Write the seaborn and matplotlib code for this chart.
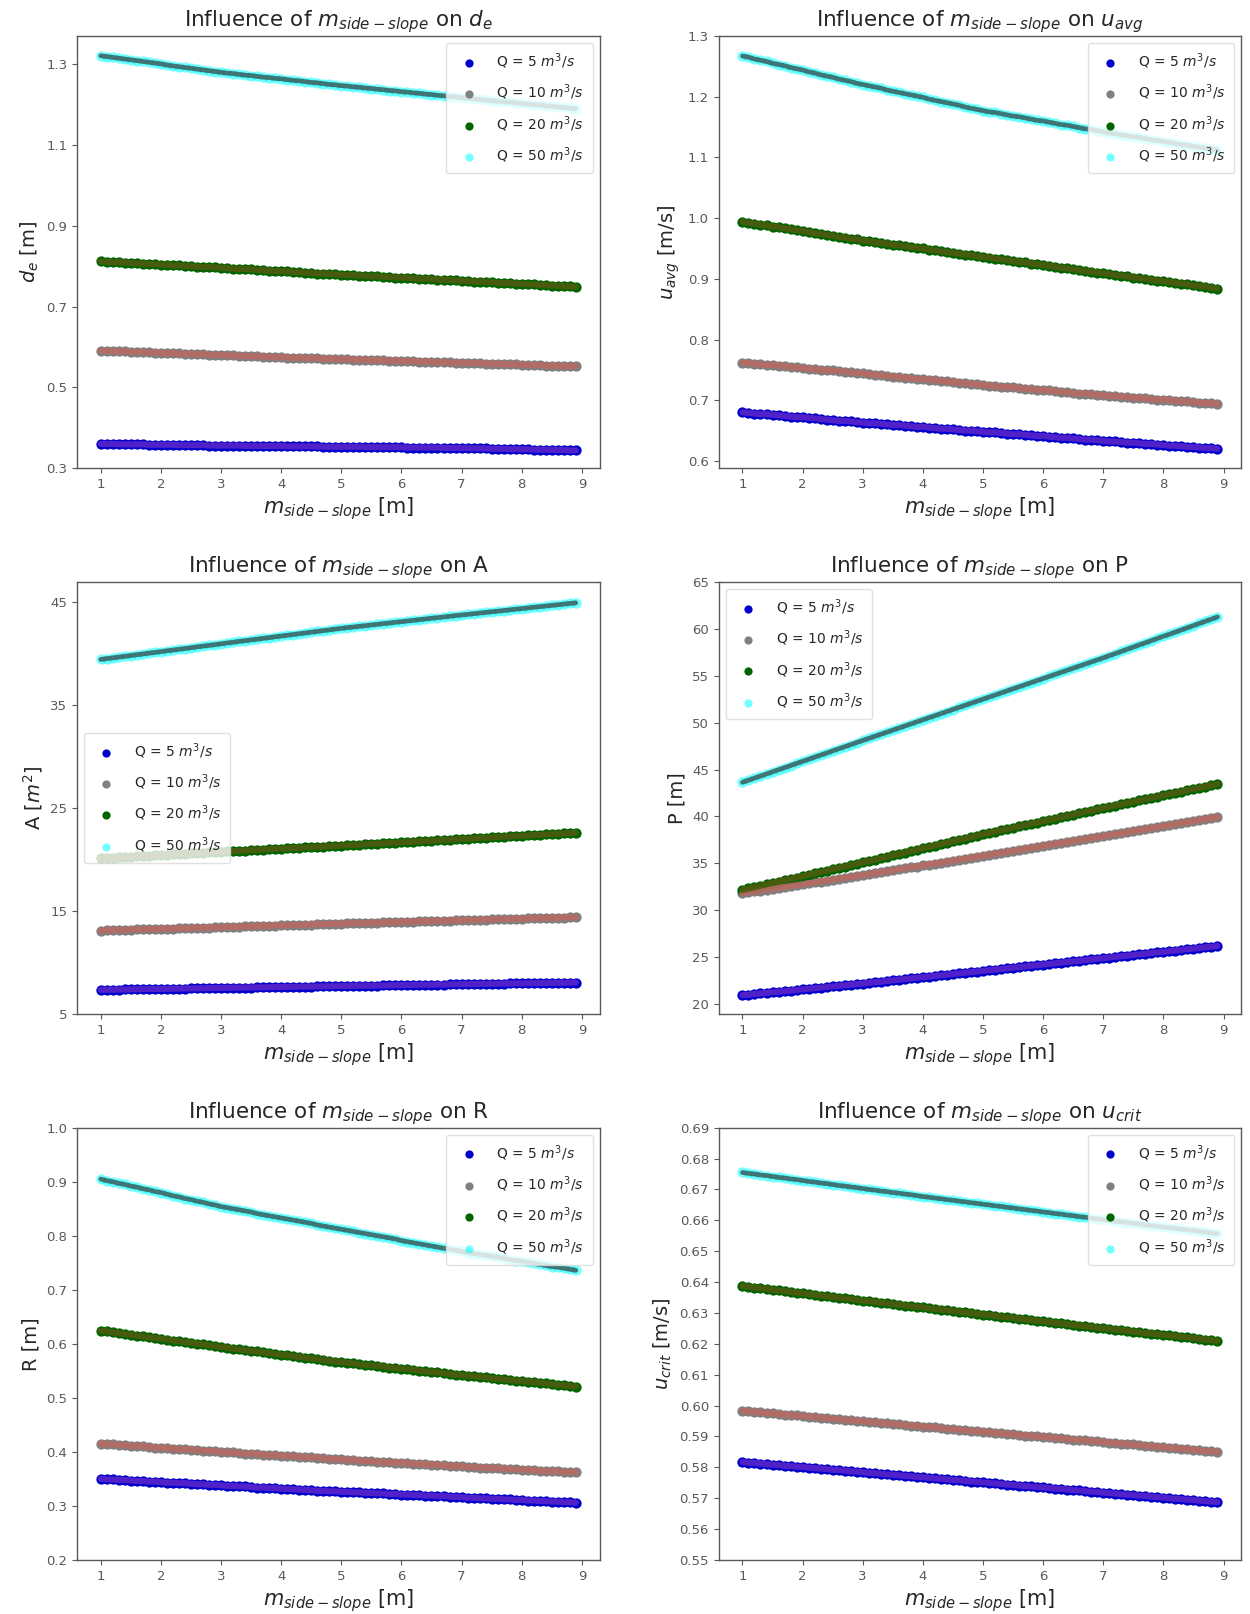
import matplotlib
matplotlib.use("Agg")
import matplotlib.pyplot as plt
import seaborn as sns

# ---------------- data ----------------
M_SIDE_SLOPE = [1.0, 1.1, 1.2, 1.3, 1.4, 1.5, 1.6, 1.7, 1.8, 1.9,
                2.0, 2.1, 2.2, 2.3, 2.4, 2.5, 2.6, 2.7, 2.8, 2.9,
                3.0, 3.1, 3.2, 3.3, 3.4, 3.5, 3.6, 3.7, 3.8, 3.9,
                4.0, 4.1, 4.2, 4.3, 4.4, 4.5, 4.6, 4.7, 4.8, 4.9,
                5.0, 5.1, 5.2, 5.3, 5.4, 5.5, 5.6, 5.7, 5.8, 5.9,
                6.0, 6.1, 6.2, 6.3, 6.4, 6.5, 6.6, 6.7, 6.8, 6.9,
                7.0, 7.1, 7.2, 7.3, 7.4, 7.5, 7.6, 7.7, 7.8, 7.9,
                8.0, 8.1, 8.2, 8.3, 8.4, 8.5, 8.6, 8.7, 8.8, 8.9]

Q_LABELS = ["Q = 5 $m^3/s$", "Q = 10 $m^3/s$", "Q = 20 $m^3/s$", "Q = 50 $m^3/s$"]

DE_Q5 = [0.360,0.360,0.360,0.359,0.359,0.359,0.359,0.359,0.358,0.358,0.358,0.358,0.358,0.357,0.357,0.357,0.357,0.357,0.356,0.356,
         0.356,0.356,0.356,0.356,0.355,0.355,0.355,0.355,0.355,0.355,0.355,0.354,0.354,0.354,0.354,0.354,0.354,0.353,0.353,0.353,
         0.353,0.353,0.353,0.353,0.352,0.352,0.352,0.352,0.352,0.352,0.352,0.351,0.351,0.351,0.351,0.351,0.351,0.350,0.350,0.350,
         0.350,0.350,0.349,0.349,0.349,0.348,0.348,0.348,0.347,0.347,0.347,0.347,0.346,0.346,0.346,0.345,0.345,0.345,0.344,0.344]
DE_Q10 = [0.591,0.590,0.590,0.589,0.589,0.588,0.588,0.587,0.587,0.586,0.585,0.585,0.584,0.584,0.583,0.583,0.582,0.582,0.581,0.581,
          0.580,0.579,0.579,0.578,0.578,0.577,0.577,0.576,0.576,0.575,0.575,0.574,0.574,0.573,0.573,0.572,0.572,0.571,0.571,0.570,
          0.570,0.570,0.569,0.569,0.568,0.568,0.567,0.567,0.566,0.566,0.565,0.565,0.565,0.564,0.564,0.563,0.563,0.562,0.562,0.561,
          0.561,0.561,0.560,0.560,0.559,0.559,0.558,0.558,0.557,0.557,0.556,0.556,0.555,0.555,0.554,0.554,0.553,0.553,0.552,0.552]
DE_Q20 = [0.812,0.811,0.810,0.810,0.809,0.808,0.807,0.806,0.806,0.805,0.804,0.803,0.802,0.802,0.801,0.800,0.799,0.798,0.798,0.797,
          0.796,0.795,0.794,0.793,0.793,0.792,0.791,0.790,0.789,0.788,0.788,0.787,0.786,0.785,0.784,0.783,0.782,0.782,0.781,0.780,
          0.779,0.778,0.778,0.777,0.776,0.775,0.775,0.774,0.773,0.772,0.772,0.771,0.770,0.769,0.769,0.768,0.767,0.766,0.766,0.765,
          0.764,0.763,0.762,0.762,0.761,0.760,0.759,0.758,0.758,0.757,0.756,0.755,0.755,0.754,0.753,0.752,0.751,0.751,0.750,0.749]
DE_Q50 = [1.321,1.319,1.317,1.315,1.313,1.311,1.309,1.307,1.305,1.303,1.301,1.298,1.296,1.294,1.292,1.290,1.288,1.286,1.284,1.282,
          1.280,1.278,1.277,1.275,1.273,1.272,1.270,1.268,1.267,1.265,1.264,1.262,1.260,1.259,1.257,1.255,1.254,1.252,1.250,1.249,
          1.247,1.246,1.244,1.243,1.241,1.240,1.238,1.237,1.235,1.234,1.232,1.231,1.229,1.228,1.226,1.225,1.223,1.222,1.220,1.219,
          1.217,1.216,1.214,1.213,1.211,1.210,1.208,1.207,1.206,1.204,1.203,1.201,1.200,1.199,1.197,1.196,1.194,1.193,1.191,1.190]

UAVG_Q5 = [0.680,0.679,0.678,0.677,0.677,0.676,0.675,0.674,0.673,0.672,0.672,0.671,0.670,0.669,0.668,0.667,0.666,0.666,0.665,0.664,
           0.663,0.662,0.662,0.661,0.660,0.659,0.659,0.658,0.657,0.656,0.656,0.655,0.654,0.653,0.653,0.652,0.651,0.650,0.650,0.649,
           0.648,0.647,0.647,0.646,0.645,0.644,0.644,0.643,0.642,0.641,0.641,0.640,0.639,0.638,0.638,0.637,0.636,0.635,0.635,0.634,
           0.633,0.632,0.632,0.631,0.630,0.630,0.629,0.628,0.628,0.627,0.626,0.625,0.625,0.624,0.623,0.623,0.622,0.621,0.621,0.620]
UAVG_Q10 = [0.762,0.761,0.760,0.759,0.758,0.758,0.757,0.756,0.755,0.754,0.753,0.752,0.751,0.750,0.749,0.749,0.748,0.747,0.746,0.745,
            0.744,0.743,0.742,0.741,0.740,0.739,0.738,0.737,0.736,0.735,0.735,0.734,0.733,0.732,0.731,0.730,0.729,0.728,0.727,0.726,
            0.725,0.724,0.723,0.722,0.722,0.721,0.720,0.719,0.718,0.717,0.717,0.716,0.715,0.714,0.713,0.712,0.711,0.711,0.710,0.709,
            0.708,0.707,0.707,0.706,0.705,0.704,0.704,0.703,0.702,0.701,0.701,0.700,0.699,0.698,0.698,0.697,0.696,0.695,0.695,0.694]
UAVG_Q20 = [0.994,0.992,0.991,0.989,0.988,0.986,0.985,0.983,0.982,0.980,0.979,0.977,0.975,0.974,0.972,0.971,0.969,0.968,0.966,0.965,
            0.963,0.962,0.960,0.959,0.958,0.956,0.955,0.954,0.952,0.951,0.950,0.948,0.947,0.945,0.944,0.943,0.941,0.940,0.939,0.937,
            0.936,0.935,0.933,0.932,0.931,0.929,0.928,0.927,0.925,0.924,0.923,0.921,0.920,0.918,0.917,0.916,0.914,0.913,0.912,0.910,
            0.909,0.908,0.906,0.905,0.904,0.902,0.901,0.900,0.898,0.897,0.896,0.895,0.893,0.892,0.891,0.889,0.888,0.887,0.885,0.884]
UAVG_Q50 = [1.267,1.265,1.262,1.260,1.258,1.255,1.253,1.251,1.248,1.246,1.244,1.241,1.239,1.236,1.234,1.232,1.229,1.227,1.225,1.222,
            1.220,1.218,1.216,1.214,1.211,1.209,1.207,1.205,1.203,1.201,1.199,1.196,1.194,1.192,1.190,1.188,1.186,1.183,1.181,1.179,
            1.177,1.175,1.174,1.172,1.170,1.168,1.167,1.165,1.163,1.161,1.160,1.158,1.156,1.154,1.153,1.151,1.149,1.147,1.146,1.144,
            1.142,1.140,1.139,1.137,1.136,1.134,1.133,1.131,1.129,1.128,1.126,1.125,1.123,1.121,1.120,1.118,1.117,1.115,1.114,1.112]

A_Q5 = [7.35,7.36,7.37,7.38,7.39,7.40,7.41,7.42,7.43,7.44,7.45,7.45,7.46,7.47,7.48,7.49,7.50,7.51,7.52,7.53,
        7.54,7.55,7.56,7.57,7.58,7.58,7.59,7.60,7.61,7.62,7.63,7.64,7.65,7.66,7.67,7.67,7.68,7.69,7.70,7.71,
        7.72,7.73,7.74,7.75,7.76,7.76,7.77,7.78,7.79,7.80,7.81,7.82,7.83,7.84,7.85,7.85,7.86,7.87,7.88,7.89,
        7.90,7.91,7.92,7.93,7.93,7.94,7.95,7.96,7.97,7.98,7.98,7.99,8.00,8.01,8.02,8.03,8.03,8.04,8.05,8.06]
A_Q10 = [13.12,13.14,13.15,13.17,13.18,13.20,13.22,13.23,13.25,13.26,13.28,13.30,13.31,13.33,13.34,13.36,13.38,13.39,13.41,13.42,
         13.44,13.46,13.48,13.49,13.51,13.53,13.55,13.56,13.58,13.60,13.62,13.63,13.65,13.67,13.69,13.70,13.72,13.74,13.76,13.77,
         13.79,13.81,13.82,13.84,13.86,13.87,13.89,13.91,13.92,13.94,13.96,13.97,13.99,14.00,14.02,14.04,14.05,14.07,14.09,14.10,
         14.12,14.14,14.15,14.17,14.18,14.20,14.21,14.23,14.24,14.26,14.27,14.29,14.30,14.32,14.33,14.35,14.36,14.38,14.39,14.41]
A_Q20 = [20.12,20.15,20.19,20.22,20.25,20.28,20.32,20.35,20.38,20.41,20.45,20.48,20.51,20.54,20.58,20.61,20.64,20.67,20.71,20.74,
         20.77,20.80,20.83,20.86,20.89,20.92,20.95,20.98,21.01,21.04,21.07,21.10,21.13,21.16,21.19,21.22,21.25,21.28,21.31,21.34,
         21.37,21.40,21.43,21.46,21.50,21.53,21.56,21.59,21.62,21.65,21.69,21.72,21.75,21.78,21.81,21.84,21.87,21.91,21.94,21.97,
         22.00,22.03,22.07,22.10,22.13,22.16,22.20,22.23,22.26,22.29,22.33,22.36,22.39,22.42,22.46,22.49,22.52,22.55,22.59,22.62]
A_Q50 = [39.46,39.54,39.61,39.69,39.76,39.84,39.92,39.99,40.07,40.14,40.22,40.30,40.37,40.45,40.52,40.60,40.68,40.75,40.83,40.90,
         40.98,41.06,41.13,41.21,41.28,41.36,41.43,41.51,41.58,41.66,41.73,41.81,41.88,41.96,42.03,42.11,42.18,42.26,42.33,42.41,
         42.48,42.55,42.61,42.68,42.74,42.81,42.87,42.94,43.00,43.07,43.13,43.20,43.26,43.33,43.39,43.46,43.52,43.59,43.65,43.72,
         43.78,43.84,43.90,43.97,44.03,44.09,44.15,44.21,44.28,44.34,44.40,44.46,44.53,44.59,44.65,44.71,44.77,44.84,44.90,44.96]

P_Q5 = [20.96,21.02,21.08,21.15,21.21,21.27,21.33,21.39,21.46,21.52,21.58,21.64,21.70,21.77,21.83,21.89,21.95,22.01,22.08,22.14,
        22.20,22.27,22.34,22.40,22.47,22.54,22.61,22.67,22.74,22.81,22.88,22.94,23.01,23.08,23.15,23.21,23.28,23.35,23.42,23.48,
        23.55,23.62,23.69,23.75,23.82,23.89,23.96,24.02,24.09,24.16,24.23,24.29,24.36,24.43,24.50,24.56,24.63,24.70,24.77,24.83,
        24.90,24.97,25.04,25.11,25.17,25.24,25.31,25.38,25.45,25.52,25.58,25.65,25.72,25.79,25.86,25.93,25.99,26.06,26.13,26.20]
P_Q10 = [31.82,31.92,32.01,32.11,32.21,32.30,32.40,32.50,32.59,32.69,32.79,32.88,32.98,33.07,33.17,33.27,33.36,33.46,33.56,33.65,
         33.75,33.85,33.96,34.06,34.16,34.26,34.37,34.47,34.57,34.67,34.78,34.88,34.98,35.08,35.19,35.29,35.39,35.49,35.60,35.70,
         35.80,35.91,36.01,36.12,36.22,36.33,36.43,36.54,36.64,36.75,36.85,36.96,37.06,37.17,37.27,37.38,37.48,37.59,37.69,37.80,
         37.90,38.01,38.11,38.22,38.33,38.44,38.54,38.65,38.76,38.87,38.97,39.08,39.19,39.30,39.40,39.51,39.62,39.73,39.83,39.94]
P_Q20 = [32.18,32.33,32.47,32.62,32.76,32.91,33.06,33.20,33.35,33.49,33.64,33.79,33.93,34.08,34.22,34.37,34.52,34.66,34.81,34.95,
         35.10,35.25,35.40,35.55,35.70,35.85,36.00,36.15,36.30,36.45,36.60,36.75,36.90,37.05,37.20,37.35,37.50,37.65,37.80,37.95,
         38.10,38.24,38.38,38.52,38.66,38.80,38.94,39.08,39.22,39.36,39.50,39.64,39.78,39.92,40.06,40.20,40.34,40.48,40.62,40.76,
         40.90,41.03,41.17,41.30,41.44,41.57,41.71,41.84,41.98,42.11,42.25,42.38,42.52,42.65,42.79,42.92,43.06,43.19,43.33,43.46]
P_Q50 = [43.64,43.86,44.09,44.31,44.53,44.76,44.98,45.20,45.42,45.65,45.87,46.09,46.32,46.54,46.76,46.99,47.21,47.43,47.65,47.88,
         48.10,48.32,48.54,48.76,48.98,49.20,49.42,49.64,49.86,50.08,50.30,50.52,50.74,50.96,51.18,51.40,51.62,51.84,52.06,52.28,
         52.50,52.72,52.94,53.16,53.38,53.60,53.82,54.04,54.26,54.48,54.70,54.92,55.14,55.36,55.58,55.80,56.02,56.24,56.46,56.68,
         56.90,57.13,57.36,57.59,57.82,58.05,58.28,58.51,58.74,58.97,59.20,59.42,59.65,59.88,60.11,60.34,60.57,60.80,61.03,61.26]

R_Q5 = [0.350,0.349,0.349,0.348,0.348,0.347,0.346,0.346,0.345,0.345,0.344,0.343,0.343,0.342,0.342,0.341,0.340,0.340,0.339,0.339,
        0.338,0.337,0.337,0.336,0.336,0.335,0.334,0.334,0.333,0.333,0.332,0.331,0.331,0.330,0.330,0.329,0.328,0.328,0.327,0.327,
        0.326,0.326,0.325,0.325,0.324,0.324,0.323,0.323,0.322,0.322,0.321,0.321,0.320,0.320,0.319,0.319,0.318,0.318,0.317,0.317,
        0.316,0.315,0.315,0.314,0.314,0.313,0.313,0.312,0.312,0.311,0.311,0.310,0.310,0.309,0.309,0.308,0.308,0.307,0.307,0.306]
R_Q10 = [0.415,0.414,0.414,0.413,0.412,0.411,0.411,0.410,0.409,0.408,0.408,0.407,0.406,0.405,0.405,0.404,0.403,0.402,0.402,0.401,
         0.400,0.399,0.399,0.398,0.397,0.397,0.396,0.395,0.394,0.394,0.393,0.392,0.392,0.391,0.390,0.390,0.389,0.388,0.387,0.387,
         0.386,0.385,0.385,0.384,0.383,0.383,0.382,0.381,0.381,0.380,0.380,0.379,0.378,0.378,0.377,0.376,0.376,0.375,0.374,0.374,
         0.373,0.372,0.372,0.371,0.371,0.370,0.370,0.369,0.368,0.368,0.367,0.367,0.366,0.365,0.365,0.364,0.364,0.363,0.363,0.362]
R_Q20 = [0.624,0.623,0.621,0.620,0.618,0.617,0.615,0.614,0.612,0.611,0.609,0.608,0.606,0.605,0.603,0.602,0.600,0.599,0.597,0.596,
         0.594,0.593,0.591,0.590,0.588,0.587,0.586,0.584,0.583,0.581,0.580,0.579,0.577,0.576,0.574,0.573,0.572,0.570,0.569,0.567,
         0.566,0.565,0.564,0.562,0.561,0.560,0.559,0.558,0.556,0.555,0.554,0.553,0.552,0.550,0.549,0.548,0.547,0.546,0.544,0.543,
         0.542,0.541,0.540,0.539,0.538,0.536,0.535,0.534,0.533,0.532,0.531,0.530,0.529,0.528,0.527,0.525,0.524,0.523,0.522,0.521]
R_Q50 = [0.905,0.902,0.900,0.897,0.895,0.892,0.890,0.887,0.885,0.882,0.880,0.877,0.874,0.872,0.869,0.867,0.864,0.862,0.859,0.857,
         0.854,0.852,0.850,0.848,0.846,0.844,0.841,0.839,0.837,0.835,0.833,0.831,0.829,0.827,0.825,0.823,0.820,0.818,0.816,0.814,
         0.812,0.810,0.808,0.806,0.804,0.802,0.800,0.798,0.796,0.794,0.791,0.789,0.787,0.785,0.783,0.781,0.779,0.777,0.775,0.773,
         0.771,0.769,0.767,0.765,0.764,0.762,0.760,0.758,0.756,0.754,0.753,0.751,0.749,0.747,0.745,0.743,0.742,0.740,0.738,0.736]

UCRIT_Q5 = [0.5817,0.5815,0.5814,0.5812,0.5810,0.5809,0.5807,0.5805,0.5804,0.5802,0.5801,0.5799,0.5797,0.5796,0.5794,0.5792,0.5791,0.5789,0.5787,0.5786,
            0.5784,0.5782,0.5781,0.5779,0.5777,0.5776,0.5774,0.5772,0.5771,0.5769,0.5768,0.5766,0.5764,0.5763,0.5761,0.5759,0.5758,0.5756,0.5754,0.5753,
            0.5751,0.5749,0.5748,0.5746,0.5744,0.5743,0.5741,0.5739,0.5738,0.5736,0.5735,0.5733,0.5731,0.5730,0.5728,0.5726,0.5725,0.5723,0.5721,0.5720,
            0.5718,0.5716,0.5715,0.5713,0.5711,0.5710,0.5708,0.5707,0.5705,0.5703,0.5702,0.5700,0.5698,0.5697,0.5695,0.5694,0.5692,0.5690,0.5689,0.5687]
UCRIT_Q10 = [0.5983,0.5981,0.5980,0.5978,0.5976,0.5975,0.5973,0.5971,0.5969,0.5968,0.5966,0.5964,0.5963,0.5961,0.5959,0.5958,0.5956,0.5954,0.5952,0.5951,
             0.5949,0.5947,0.5946,0.5944,0.5942,0.5941,0.5939,0.5937,0.5935,0.5934,0.5932,0.5930,0.5929,0.5927,0.5925,0.5924,0.5922,0.5920,0.5918,0.5917,
             0.5915,0.5913,0.5912,0.5910,0.5908,0.5907,0.5905,0.5903,0.5902,0.5900,0.5899,0.5897,0.5895,0.5894,0.5892,0.5890,0.5889,0.5887,0.5885,0.5884,
             0.5882,0.5880,0.5879,0.5877,0.5875,0.5874,0.5872,0.5870,0.5869,0.5867,0.5865,0.5864,0.5862,0.5860,0.5858,0.5857,0.5855,0.5853,0.5852,0.5850]
UCRIT_Q20 = [0.6387,0.6385,0.6382,0.6380,0.6378,0.6375,0.6373,0.6371,0.6368,0.6366,0.6364,0.6361,0.6359,0.6356,0.6354,0.6352,0.6349,0.6347,0.6345,0.6342,
             0.6340,0.6338,0.6336,0.6333,0.6331,0.6329,0.6327,0.6324,0.6322,0.6320,0.6318,0.6315,0.6313,0.6311,0.6309,0.6306,0.6304,0.6302,0.6300,0.6297,
             0.6295,0.6293,0.6291,0.6288,0.6286,0.6284,0.6282,0.6279,0.6277,0.6275,0.6273,0.6270,0.6268,0.6266,0.6264,0.6261,0.6259,0.6257,0.6255,0.6252,
             0.6250,0.6248,0.6246,0.6244,0.6242,0.6239,0.6237,0.6235,0.6233,0.6231,0.6229,0.6227,0.6225,0.6223,0.6221,0.6218,0.6216,0.6214,0.6212,0.6210]
UCRIT_Q50 = [0.6755,0.6752,0.6750,0.6747,0.6745,0.6742,0.6739,0.6737,0.6734,0.6732,0.6729,0.6726,0.6724,0.6721,0.6719,0.6716,0.6713,0.6711,0.6708,0.6706,
             0.6703,0.6700,0.6698,0.6695,0.6693,0.6690,0.6688,0.6685,0.6683,0.6680,0.6677,0.6675,0.6672,0.6670,0.6667,0.6665,0.6662,0.6660,0.6657,0.6655,
             0.6652,0.6650,0.6647,0.6645,0.6642,0.6640,0.6637,0.6635,0.6632,0.6630,0.6627,0.6625,0.6622,0.6620,0.6617,0.6615,0.6612,0.6610,0.6607,0.6605,
             0.6602,0.6600,0.6597,0.6595,0.6593,0.6590,0.6588,0.6585,0.6583,0.6581,0.6578,0.6576,0.6574,0.6571,0.6569,0.6567,0.6564,0.6562,0.6559,0.6557]

PANEL_TITLES = ["Influence of $m_{side-slope}$ on $d_e$",
                "Influence of $m_{side-slope}$ on $u_{avg}$",
                "Influence of $m_{side-slope}$ on A",
                "Influence of $m_{side-slope}$ on P",
                "Influence of $m_{side-slope}$ on R",
                "Influence of $m_{side-slope}$ on $u_{crit}$"]
PANEL_YLABELS = ["$d_e$ [m]", "$u_{avg}$ [m/s]", "A [$m^2$]", "P [m]", "R [m]", "$u_{crit}$ [m/s]"]
X_LABEL = "$m_{side-slope}$ [m]"
X_TICKS = [1, 2, 3, 4, 5, 6, 7, 8, 9]
Y_TICKS = [[0.3, 0.5, 0.7, 0.9, 1.1, 1.3],
           [0.6, 0.7, 0.8, 0.9, 1.0, 1.1, 1.2, 1.3],
           [5, 15, 25, 35, 45],
           [20, 25, 30, 35, 40, 45, 50, 55, 60, 65],
           [0.2, 0.3, 0.4, 0.5, 0.6, 0.7, 0.8, 0.9, 1.0],
           [0.55, 0.56, 0.57, 0.58, 0.59, 0.60, 0.61, 0.62, 0.63, 0.64, 0.65, 0.66, 0.67, 0.68, 0.69]]
Y_TICKLABELS = [["0.3", "0.5", "0.7", "0.9", "1.1", "1.3"],
                ["0.6", "0.7", "0.8", "0.9", "1.0", "1.1", "1.2", "1.3"],
                ["5", "15", "25", "35", "45"],
                ["20", "25", "30", "35", "40", "45", "50", "55", "60", "65"],
                ["0.2", "0.3", "0.4", "0.5", "0.6", "0.7", "0.8", "0.9", "1.0"],
                ["0.55", "0.56", "0.57", "0.58", "0.59", "0.60", "0.61", "0.62", "0.63", "0.64",
                 "0.65", "0.66", "0.67", "0.68", "0.69"]]

SERIES = [[DE_Q5, DE_Q10, DE_Q20, DE_Q50],
          [UAVG_Q5, UAVG_Q10, UAVG_Q20, UAVG_Q50],
          [A_Q5, A_Q10, A_Q20, A_Q50],
          [P_Q5, P_Q10, P_Q20, P_Q50],
          [R_Q5, R_Q10, R_Q20, R_Q50],
          [UCRIT_Q5, UCRIT_Q10, UCRIT_Q20, UCRIT_Q50]]

for group in SERIES:
    for s in group:
        assert len(s) == len(M_SIDE_SLOPE), len(s)

# ---------------- styling ----------------
sns.set_style("ticks", {"axes.edgecolor": "0.35", "xtick.color": "0.35", "ytick.color": "0.35",
                        "text.color": "0.15", "axes.labelcolor": "0.15"})
plt.rcParams["font.family"] = ["DejaVu Sans"]
plt.rcParams["mathtext.fontset"] = "dejavusans"

DOT_COLORS = ["mediumblue", "grey", "darkgreen", "cyan"]
DOT_ALPHA = [1.0, 1.0, 1.0, 0.55]
LINE_COLORS = ["#5a24c8", "#b86a64", "#4e5a10", "#3d6666"]
LINE_WIDTHS = [4.4, 4.4, 4.4, 3.4]
YLIMS = [(0.3, 1.37), (0.588, 1.3), (5, 47), (18.95, 65), (0.2, 1.0), (0.55, 0.69)]
LEGEND_LOCS = ["upper right", "upper right", "center left", "upper left", "upper right", "upper right"]

fig, axes = plt.subplots(3, 2, figsize=(12.5, 16.14), dpi=100)
fig.subplots_adjust(left=0.0616, right=0.993, bottom=0.0335, top=0.9777, wspace=0.228, hspace=0.263)

for k, ax in enumerate(axes.flat):
    for j, vals in enumerate(SERIES[k]):
        sns.scatterplot(x=M_SIDE_SLOPE, y=vals, color=DOT_COLORS[j], alpha=DOT_ALPHA[j],
                        s=55, linewidth=0, label=Q_LABELS[j], ax=ax, zorder=2)
        sns.lineplot(x=M_SIDE_SLOPE, y=vals, color=LINE_COLORS[j], linewidth=LINE_WIDTHS[j],
                     alpha=0.9, ax=ax, zorder=3)
    ax.set_title(PANEL_TITLES[k], fontsize=15.5, pad=7)
    ax.set_xlabel(X_LABEL, fontsize=15, labelpad=3)
    ax.set_ylabel(PANEL_YLABELS[k], fontsize=14, labelpad=4)
    ax.set_xticks(X_TICKS)
    ax.set_xticklabels([str(t) for t in X_TICKS])
    ax.set_yticks(Y_TICKS[k])
    ax.set_yticklabels(Y_TICKLABELS[k])
    ax.set_ylim(*YLIMS[k])
    ax.set_xlim(0.605, 9.295)
    ax.tick_params(labelsize=9.5, length=3.5, width=0.8)
    for sp in ax.spines.values():
        sp.set_linewidth(1.0)
    ax.legend(loc=LEGEND_LOCS[k], fontsize=10, labelspacing=0.85, handletextpad=1.0,
              borderpad=0.6, framealpha=0.8, edgecolor="0.85", markerscale=0.8)

fig.savefig("out.png", dpi=100)
